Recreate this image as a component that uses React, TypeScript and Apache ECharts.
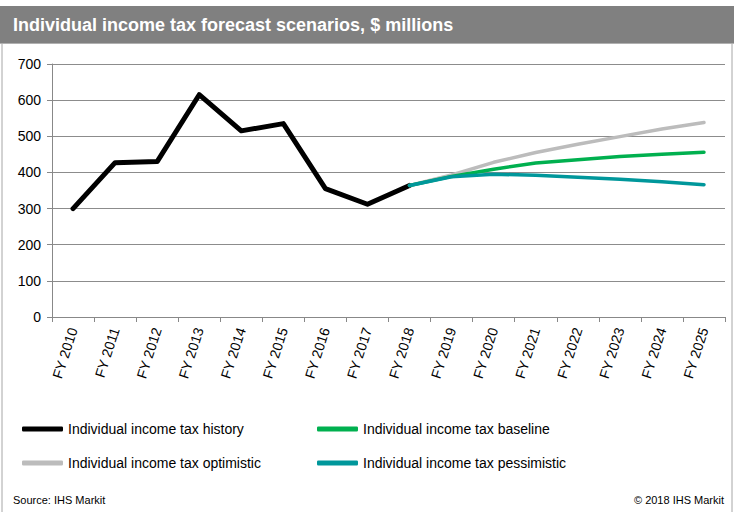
import React, { useEffect, useRef } from "react";
import * as echarts from "echarts";

const categories = [
  "FY 2010", "FY 2011", "FY 2012", "FY 2013", "FY 2014", "FY 2015", "FY 2016", "FY 2017",
  "FY 2018", "FY 2019", "FY 2020", "FY 2021", "FY 2022", "FY 2023", "FY 2024", "FY 2025",
];
const history = [300, 427, 430, 615, 515, 535, 355, 312, 364, null, null, null, null, null, null, null];
const optimistic = [null, null, null, null, null, null, null, null, 364, 393, 428, 455, 478, 499, 520, 538];
const baseline = [null, null, null, null, null, null, null, null, 364, 389, 409, 426, 435, 444, 450, 456];
const pessimistic = [null, null, null, null, null, null, null, null, 364, 388, 395, 392, 387, 381, 374, 366];

const titleText = "Individual income tax forecast scenarios, $ millions";
const sourceText = "Source: IHS Markit";
const copyrightText = "© 2018 IHS Markit";

const FONT = "Liberation Sans, Arial, sans-serif";

export default function App() {
  const ref = useRef<HTMLDivElement>(null);
  useEffect(() => {
    if (!ref.current) return;
    const chart = echarts.init(ref.current, undefined, { renderer: "svg" });
    const lineSeries = (name: string, data: (number | null)[], color: string, width: number) => ({
      name,
      type: "line",
      data,
      symbol: "none",
      connectNulls: false,
      lineStyle: { color, width, cap: "round", join: "round" },
      itemStyle: { color },
    });
    const legendCommon = {
      top: 417,
      orient: "vertical",
      itemWidth: 41,
      itemHeight: 5,
      itemGap: 20,
      icon: "roundRect",
      textStyle: { fontSize: 14, color: "#000000", fontFamily: FONT },
    };
    chart.setOption({
      animation: false,
      backgroundColor: "#ffffff",
      textStyle: { fontFamily: FONT },
      grid: { left: 52, right: 9, top: 64, bottom: 195, containLabel: false },
      xAxis: {
        type: "category",
        data: categories,
        boundaryGap: true,
        axisLine: { lineStyle: { color: "#888888", width: 1 } },
        axisTick: { show: true, length: 5, lineStyle: { color: "#888888" }, alignWithLabel: false },
        axisLabel: { rotate: 72, fontSize: 14, color: "#000000", margin: 11, fontFamily: FONT, interval: 0 },
        splitLine: { show: false },
      },
      yAxis: {
        type: "value",
        min: 0,
        max: 700,
        interval: 100,
        axisLine: { show: true, lineStyle: { color: "#888888", width: 1 } },
        axisTick: { show: true, length: 5, lineStyle: { color: "#888888" } },
        axisLabel: { fontSize: 14, color: "#000000", margin: 11, fontFamily: FONT },
        splitLine: { show: true, lineStyle: { color: "#8c8c8c", width: 1 } },
      },
      legend: [
        {
          ...legendCommon,
          left: 17,
          data: ["Individual income tax history", "Individual income tax optimistic"],
        },
        {
          ...legendCommon,
          left: 312,
          data: ["Individual income tax baseline", "Individual income tax pessimistic"],
        },
      ],
      series: [
        lineSeries("Individual income tax history", history, "#000000", 5),
        lineSeries("Individual income tax optimistic", optimistic, "#bcbcbc", 3.5),
        lineSeries("Individual income tax baseline", baseline, "#00b04f", 3.5),
        lineSeries("Individual income tax pessimistic", pessimistic, "#00979b", 3.5),
      ],
      graphic: [
        {
          type: "rect",
          silent: true,
          shape: { x: 2, y: 42, width: 730, height: 480 },
          style: { fill: "none", stroke: "#a6a6a6", lineWidth: 1 },
          z: -1,
        },
        {
          type: "rect",
          silent: true,
          shape: { x: 0, y: 6, width: 734, height: 37 },
          style: { fill: "#808080" },
        },
        {
          type: "line",
          silent: true,
          shape: { x1: 0, y1: 43.5, x2: 734, y2: 43.5 },
          style: { stroke: "#b0b0b0", lineWidth: 1 },
        },
        {
          type: "text",
          silent: true,
          x: 13,
          y: 25,
          style: {
            text: titleText,
            fill: "#ffffff",
            fontSize: 18,
            fontWeight: "bold",
            fontFamily: FONT,
            verticalAlign: "middle",
            align: "left",
          },
        },
        {
          type: "text",
          silent: true,
          x: 13,
          y: 500,
          style: { text: sourceText, fill: "#000000", fontSize: 11, fontFamily: FONT, verticalAlign: "middle" },
        },
        {
          type: "text",
          silent: true,
          x: 724,
          y: 500,
          style: {
            text: copyrightText,
            fill: "#000000",
            fontSize: 11,
            fontFamily: FONT,
            verticalAlign: "middle",
            align: "right",
          },
        },
      ],
    });
    return () => chart.dispose();
  }, []);
  return (
    <div
      ref={ref}
      style={{ position: "fixed", left: 0, top: 0, width: 734, height: 512, background: "#fff" }}
    />
  );
}
